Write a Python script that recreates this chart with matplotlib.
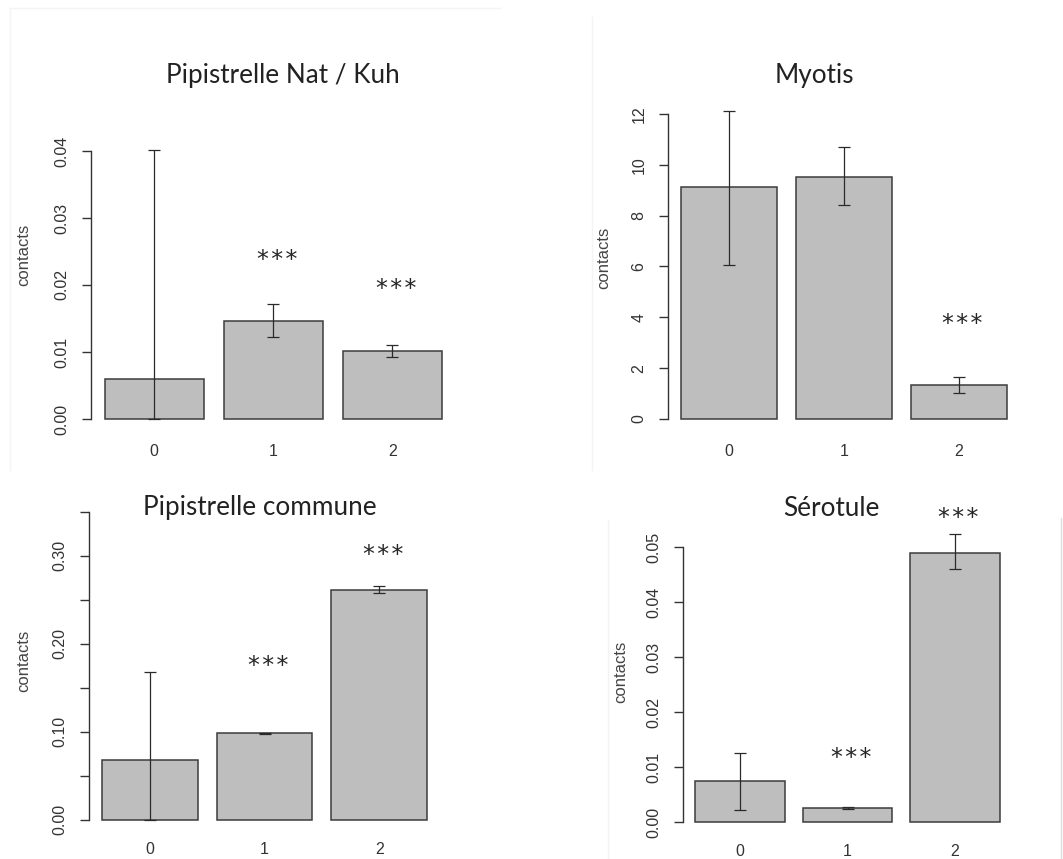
import numpy as np
import matplotlib.pyplot as plt
from matplotlib.lines import Line2D

W, H, DPI = 1063, 859, 100

classes = ['0', '1', '2']

# mean contacts per class, with lower / upper bounds of the interval
nat_kuh = [0.0060, 0.0146, 0.0101]
nat_kuh_lo = [0.0000, 0.0122, 0.0093]
nat_kuh_hi = [0.0401, 0.0171, 0.0111]
nat_kuh_sig = ['', '***', '***']
nat_kuh_sig_y = [0, 0.0246, 0.0204]

myotis = [9.11, 9.52, 1.33]
myotis_lo = [6.05, 8.42, 1.01]
myotis_hi = [12.13, 10.70, 1.64]
myotis_sig = ['', '', '***']
myotis_sig_y = [0, 0, 3.97]

commune = [0.0680, 0.0982, 0.2615]
commune_lo = [0.0000, 0.0975, 0.2575]
commune_hi = [0.1675, 0.0990, 0.2655]
commune_sig = ['', '***', '***']
commune_sig_y = [0, 0.1815, 0.3076]

serotule = [0.00745, 0.00266, 0.0490]
serotule_lo = [0.00224, 0.00250, 0.0460]
serotule_hi = [0.01255, 0.00280, 0.0525]
serotule_sig = ['', '***', '***']
serotule_sig_y = [0, 0.01284, 0.0565]

INK = '#333333'
BAR = '#bebebe'
TICK_FONT = 'Liberation Sans'
TITLE_FONT = 'Lato'

# barplot geometry: width 1, space 0.2, x range padded by 4%
centers = 0.7 + 1.2 * np.arange(len(classes))
XLIM = (0.064, 3.736)

fig = plt.figure(figsize=(W / DPI, H / DPI), dpi=DPI)
fig.patch.set_facecolor('white')


def panel(axis_x, xscale, y0_px, yref_px, yref_val, ylim, ticks, ticklabels,
          xlab_px, ylab_px, title_px, title,
          means, lo, hi, sig, sig_y):
    s = (y0_px - yref_px) / yref_val
    top_px = y0_px - ylim[1] * s
    bot_px = y0_px - ylim[0] * s
    width = (XLIM[1] - XLIM[0]) * xscale
    ax = fig.add_axes([axis_x / W, 1 - bot_px / H, width / W, (bot_px - top_px) / H])
    ax.set_xlim(XLIM)
    ax.set_ylim(ylim)
    ax.patch.set_alpha(0)

    means = np.asarray(means)
    ax.bar(centers, means, width=1.0, color=BAR, edgecolor='#3c3c3c', linewidth=1.1, zorder=2)
    err = [means - np.asarray(lo), np.asarray(hi) - means]
    ax.errorbar(centers, means, yerr=err, fmt='none', ecolor='#2a2a2a',
                elinewidth=0.9, capsize=4, capthick=0.9, zorder=3, clip_on=False)

    # significance stars, with hair spaces between them
    for x, txt, y in zip(centers, sig, sig_y):
        if txt:
            ax.annotate('\u200a'.join(txt), (x + 0.04, y), xytext=(0, -4.5),
                        textcoords='offset points', annotation_clip=False,
                        ha='center', va='center', fontsize=17,
                        family='DejaVu Sans', color='#262626')

    for side in ['top', 'right', 'bottom']:
        ax.spines[side].set_visible(False)
    ax.spines['left'].set_bounds(ticks[0], ticks[-1])
    ax.spines['left'].set_color(INK)
    ax.spines['left'].set_linewidth(1.0)

    ax.set_yticks(ticks)
    ax.set_yticklabels(ticklabels, rotation=90, va='center', family=TICK_FONT)
    ax.tick_params(axis='y', length=6.5, width=1.0, color=INK, labelcolor=INK,
                   labelsize=11.5, pad=9)

    pad = (xlab_px - 6 - bot_px) / (DPI / 72)
    ax.set_xticks(centers)
    ax.set_xticklabels(classes, family=TICK_FONT)
    ax.tick_params(axis='x', length=0, labelcolor=INK, labelsize=11.5, pad=pad)

    ax.set_ylabel('contacts', family=TICK_FONT, fontsize=12, color='#444444')
    ax.yaxis.set_label_coords((ylab_px[0] - axis_x) / width,
                              (bot_px - ylab_px[1]) / (bot_px - top_px))
    ax.yaxis.label.set_va('center')

    fig.text(title_px[0] / W, 1 - title_px[1] / H, title, ha='center', va='center',
             fontsize=18.8, family=TITLE_FONT, color='#222222')
    return ax


panel(91, 99.3, 419, 151, 0.04, (-0.0016, 0.0416),
      [0, 0.01, 0.02, 0.03, 0.04], ['0.00', '0.01', '0.02', '0.03', '0.04'],
      450, (24, 255), (283, 76), 'Pipistrelle Nat / Kuh',
      nat_kuh, nat_kuh_lo, nat_kuh_hi, nat_kuh_sig, nat_kuh_sig_y)

panel(668, 95.8, 419, 114, 12, (-0.48, 12.48),
      [0, 2, 4, 6, 8, 10, 12], ['0', '2', '4', '6', '8', '10', '12'],
      450, (604, 258), (814, 76), 'Myotis',
      myotis, myotis_lo, myotis_hi, myotis_sig, myotis_sig_y)

panel(89, 95.6, 819.7, 555.7, 0.30, (-0.014, 0.364),
      [0, 0.05, 0.10, 0.15, 0.20, 0.25, 0.30, 0.35],
      ['0.00', '', '0.10', '', '0.20', '', '0.30', ''],
      848, (24, 661), (260, 508), 'Pipistrelle commune',
      commune, commune_lo, commune_hi, commune_sig, commune_sig_y)

panel(683, 89.6, 822.3, 547.3, 0.05, (-0.002, 0.052),
      [0, 0.01, 0.02, 0.03, 0.04, 0.05], ['0.00', '0.01', '0.02', '0.03', '0.04', '0.05'],
      850, (621, 672), (831, 508), 'Sérotule',
      serotule, serotule_lo, serotule_hi, serotule_sig, serotule_sig_y)

# faint frames left around the pasted panels
frame_lines = [
    ((10, 500), (8, 8), '#f4f4f4'),
    ((10, 10), (8, 470), '#f4f4f4'),
    ((592, 592), (17, 470), '#f4f4f4'),
    ((608, 608), (520, 859), '#f2f2f2'),
    ((1061, 1061), (518, 859), '#dcdcdc'),
]
for xs, ys, c in frame_lines:
    fig.add_artist(Line2D([x / W for x in xs], [1 - y / H for y in ys],
                          color=c, linewidth=1.0, transform=fig.transFigure))

fig.savefig('out.png', dpi=DPI)
